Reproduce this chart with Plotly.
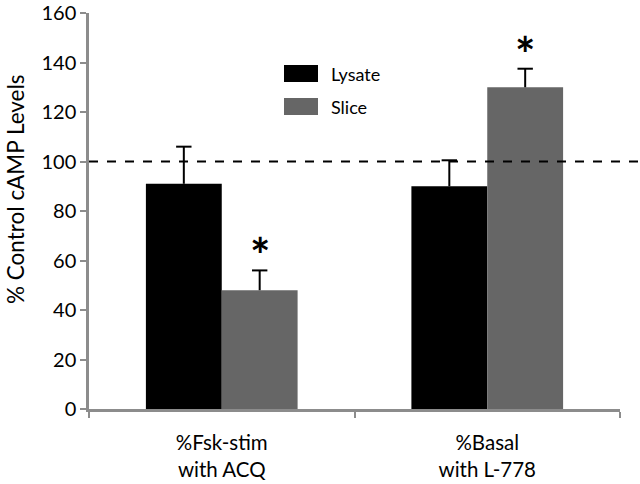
import plotly.graph_objects as go

categories = ["%Fsk-stim<br>with ACQ", "%Basal<br>with L-778"]
lysate = [91, 90]
lysate_err = [15, 10.5]
slice_vals = [48, 130]
slice_err = [8, 7.5]
y_ticks = [0, 20, 40, 60, 80, 100, 120, 140, 160]
control_level = 100
sig_marks = ["*", "*"]

FONT = "Lato"
GRAY = "#666666"
AXIS = "#8c8c8c"
BAR_W = 0.2857

idx = list(range(len(categories)))
x_lys = [i - BAR_W / 2 for i in idx]
x_sli = [i + BAR_W / 2 for i in idx]

fig = go.Figure()
for name, xs, vals, errs, col in [("Lysate", x_lys, lysate, lysate_err, "black"),
                                  ("Slice", x_sli, slice_vals, slice_err, GRAY)]:
    fig.add_trace(go.Bar(
        name=name, x=xs, y=vals, width=BAR_W, marker_color=col, marker_line_width=0,
        error_y=dict(type="data", array=errs, arrayminus=[0] * len(errs), symmetric=False,
                     color="black", thickness=2, width=0),
    ))
    # error bar caps (top only)
    fig.add_trace(go.Scatter(
        x=xs, y=[v + e for v, e in zip(vals, errs)], mode="markers", showlegend=False,
        hoverinfo="skip",
        marker=dict(symbol="line-ew-open", size=11, color="black",
                    line=dict(color="black", width=2)),
    ))

# dashed control line
fig.add_shape(type="line", xref="paper", yref="y", x0=0, x1=1.035,
              y0=control_level, y1=control_level,
              line=dict(color="black", width=2, dash="dash"))

# significance asterisks above slice bars
for i in idx:
    fig.add_annotation(x=x_sli[i], y=slice_vals[i] + slice_err[i], xref="x", yref="y",
                       text="<b>" + sig_marks[i] + "</b>", showarrow=False,
                       yshift=-15, yanchor="bottom",
                       font=dict(family=FONT, size=48, color="black"))

PLOT_TOP, PLOT_BOT, PLOT_L, PLOT_W = 13, 409, 89, 531
PLOT_H = PLOT_BOT - PLOT_TOP

# manual legend
legend_items = [("Lysate", "black"), ("Slice", GRAY)]
for k, (name, col) in enumerate(legend_items):
    ytop = 65 + k * 33
    fig.add_shape(type="rect", xref="paper", yref="paper",
                  x0=(284 - PLOT_L) / PLOT_W, x1=(318 - PLOT_L) / PLOT_W,
                  y0=(PLOT_BOT - ytop - 17) / PLOT_H, y1=(PLOT_BOT - ytop) / PLOT_H,
                  fillcolor=col, line_width=0)
    fig.add_annotation(xref="paper", yref="paper", x=(329 - PLOT_L) / PLOT_W,
                       y=(PLOT_BOT - ytop - 8.5) / PLOT_H, text=name, showarrow=False,
                       xanchor="left", yanchor="middle",
                       font=dict(family=FONT, size=18, color="black"))

# y-axis title
fig.add_annotation(xref="paper", yref="paper", x=(15 - PLOT_L) / PLOT_W,
                   y=(PLOT_BOT - 189) / PLOT_H,
                   text="% Control cAMP Levels", textangle=-90, showarrow=False,
                   xanchor="center", yanchor="middle",
                   font=dict(family=FONT, size=22.5, color="black"))

fig.update_layout(
    width=640, height=484,
    margin=dict(l=PLOT_L, r=20, t=PLOT_TOP, b=484 - PLOT_BOT),
    plot_bgcolor="white", paper_bgcolor="white",
    showlegend=False,
    font=dict(family=FONT, color="black"),
    xaxis=dict(
        range=[-0.5, 1.5], automargin=False,
        tickvals=idx, ticktext=categories, ticks="",
        showline=True, linecolor=AXIS, linewidth=2.5,
        minor=dict(tickvals=[-0.5, 0.5, 1.5], ticks="outside", ticklen=6,
                   tickwidth=2, tickcolor=AXIS, showgrid=False),
        tickfont=dict(family=FONT, size=20.5, color="black"),
        ticklabelstandoff=14,
        showgrid=False, zeroline=False,
    ),
    yaxis=dict(
        range=[0, 160.01], tickvals=y_ticks, automargin=False,
        ticklabeloverflow="allow",
        showline=True, linecolor=AXIS, linewidth=2.5,
        ticks="outside", ticklen=6, tickwidth=2, tickcolor=AXIS,
        tickfont=dict(family=FONT, size=20, color="black"),
        showgrid=False, zeroline=False,
    ),
)

fig.write_html("out.html", config={"displayModeBar": False},
               post_script="document.body.style.margin='0';")
